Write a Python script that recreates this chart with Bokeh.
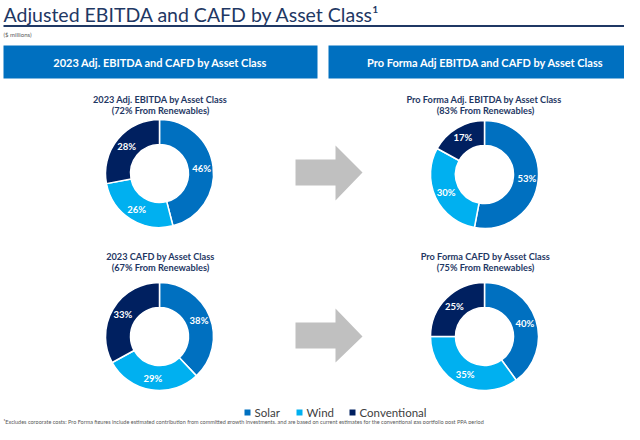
from math import pi, cos, sin
from bokeh.plotting import figure
from bokeh.core.properties import value
from bokeh.embed import file_html
from bokeh.resources import INLINE

# ---------------- data ----------------
classes = ["Solar", "Wind", "Conventional"]
class_colors = ["#0070C0", "#00B0F0", "#002060"]

ebitda_2023 = [46, 26, 28]
ebitda_pro_forma = [53, 30, 17]
cafd_2023 = [38, 29, 33]
cafd_pro_forma = [40, 35, 25]

chart_titles = [
    "2023 Adj. EBITDA by Asset Class",
    "Pro Forma  Adj. EBITDA by Asset Class",
    "2023 CAFD by Asset Class",
    "Pro Forma CAFD by Asset Class",
]
renewable_notes = [
    "(72% From Renewables)",
    "(83% From Renewables)",
    "(67% From Renewables)",
    "(75% From Renewables)",
]
panel_titles = [
    "2023 Adj. EBITDA and CAFD by Asset Class",
    "Pro Forma Adj EBITDA and CAFD by Asset Class",
]
main_title = "Adjusted EBITDA and CAFD by Asset Class\u00b9"
units_note = "($ millions)"
footnote = ("\u00b9Excludes corporate costs; Pro Forma figures include estimated contribution from "
            "committed growth investments, and are based on current estimates for the conventional "
            "gas portfolio post PPA period")

# ---------------- layout ----------------
H = 440
FONT = value("Lato")
NAVY = "#1F3864"


def Y(y):
    return H - y


p = figure(width=624, height=424, x_range=(0, 624), y_range=(H - 424, H),
           output_backend="svg", toolbar_location=None, min_border=0,
           background_fill_color="white", border_fill_color="white")
p.axis.visible = False
p.grid.visible = False
p.outline_line_color = None

# title
p.text(x=[3], y=[Y(14)], text=[main_title], text_font=FONT, text_font_size="19.5px",
       text_color=NAVY, text_baseline="middle", text_align="left")
p.segment(x0=[3], y0=[Y(25.5)], x1=[640], y1=[Y(25.5)], line_color=NAVY, line_width=2)
p.text(x=[3], y=[Y(34)], text=[units_note], text_font=FONT, text_font_size="6px",
       text_color="#595959", text_baseline="middle", text_align="left")

# panel header boxes
p.quad(left=[3, 328], right=[317, 645], top=[Y(45), Y(45)], bottom=[Y(78), Y(78)],
       fill_color="#0070C0", line_color=None)
p.text(x=[160, 485], y=[Y(62), Y(62)], text=panel_titles, text_font=FONT,
       text_font_style="bold", text_font_size="11px", text_color="white",
       text_baseline="middle", text_align="center")

# donuts
series = [ebitda_2023, ebitda_pro_forma, cafd_2023, cafd_pro_forma]
centers = [(159, 173), (484, 174), (159, 336), (484, 336)]
title_y = [(99, 110), (99, 110), (256, 267), (256, 267)]
R_OUT, R_IN = 54, 29

for vals, (cx, cy), (ty1, ty2), t1, t2 in zip(series, centers, title_y, chart_titles, renewable_notes):
    total = float(sum(vals))
    cum = 0.0
    starts, ends, lx, ly, labels = [], [], [], [], []
    for v in vals:
        a0 = pi / 2 - 2 * pi * cum / total
        a1 = pi / 2 - 2 * pi * (cum + v) / total
        mid = pi / 2 - 2 * pi * (cum + v / 2) / total
        starts.append(a0)
        ends.append(a1)
        rm = (R_OUT + R_IN) / 2 + 1
        lx.append(cx + rm * cos(mid))
        ly.append(Y(cy) + rm * sin(mid))
        labels.append(f"{v}%")
        cum += v
    p.annular_wedge(x=[cx] * 3, y=[Y(cy)] * 3, inner_radius=R_IN, outer_radius=R_OUT,
                    start_angle=starts, end_angle=ends, direction="clock",
                    fill_color=class_colors, line_color="white", line_width=1.5)
    p.text(x=lx, y=ly, text=labels, text_font=FONT, text_font_style="bold",
           text_font_size="9.5px", text_color="white", text_align="center",
           text_baseline="middle")
    p.text(x=[cx + 1, cx + 1], y=[Y(ty1), Y(ty2)], text=[t1, t2], text_font=FONT,
           text_font_style="bold", text_font_size="9.2px", text_color=NAVY,
           text_align="center", text_baseline="middle")

# arrows
for sy, hy0, ty, hy1, sy1 in [(159, 145, 172, 200, 185), (322, 308, 336, 362, 348)]:
    xs = [295, 335, 335, 362, 335, 335, 295]
    ys = [Y(sy), Y(sy), Y(hy0), Y(ty), Y(hy1), Y(sy1), Y(sy1)]
    p.patch(x=xs, y=ys, fill_color="#C0C0C0", line_color=None)

# legend
leg_x = [247, 299, 352]
p.scatter(x=leg_x, y=[Y(412)] * 3, marker="square", size=6, fill_color=class_colors,
          line_color=None)
p.text(x=[x + 7 for x in leg_x], y=[Y(412)] * 3, text=classes, text_font=FONT,
       text_font_size="11.5px", text_color="#404040", text_baseline="middle",
       text_align="left")

# footnote
p.text(x=[3], y=[Y(421)], text=[footnote], text_font=FONT, text_font_size="5.5px",
       text_color="#595959", text_baseline="middle", text_align="left")

open("out.html", "w").write(file_html(p, INLINE))
